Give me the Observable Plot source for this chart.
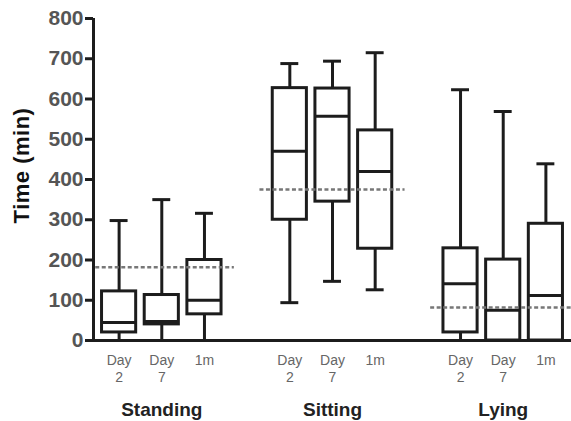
<!DOCTYPE html>
<html>
<head>
<meta charset="utf-8">
<script src="https://cdn.jsdelivr.net/npm/d3@7"></script>
<script src="https://cdn.jsdelivr.net/npm/@observablehq/plot@0.6"></script>
<style>
  html, body { margin: 0; padding: 0; background: #fff; }
  svg { display: block; }
</style>
</head>
<body>
<div id="chart"></div>
<script>
const groups = ["Standing", "Sitting", "Lying"];
const conditions = ["Day\n2", "Day\n7", "1m"];
const yTicks = [0, 100, 200, 300, 400, 500, 600, 700, 800];

// per group, per condition
const whiskerHigh = [[298, 350, 316], [688, 694, 715], [623, 569, 439]];
const q3 = [[122, 113, 200], [627, 626, 522], [229, 201, 290]];
const median = [[45, 47, 100], [470, 557, 420], [141, 75, 112]];
const q1 = [[20, 40, 65], [300, 345, 228], [20, 0, 0]];
const whiskerLow = [[0, 0, 0], [94, 147, 126], [0, 0, 0]];
const reference = [182, 375, 82];

const rows = [];
groups.forEach((g, gi) => conditions.forEach((c, ci) => {
  rows.push({group: g, cond: c, pos: gi * 4 + ci,
    lo: whiskerLow[gi][ci], q1: q1[gi][ci], med: median[gi][ci],
    q3: q3[gi][ci], hi: whiskerHigh[gi][ci]});
}));
const refRows = groups.map((g, gi) => ({group: g, center: gi * 4 + 1, value: reference[gi]}));

const xDomain = [-0.6, 10.6];
const halfBox = 0.4, halfCap = 0.21, halfRef = 1.7;
const ink = "#1c1c1c";
const font = "Liberation Sans, Arial, sans-serif";

const chart = Plot.plot({
  width: 571,
  height: 421,
  marginLeft: 93,
  marginRight: 0,
  marginTop: 18,
  marginBottom: 81,
  style: {fontFamily: font, background: "#fff"},
  x: {type: "linear", domain: xDomain},
  y: {domain: [0, 800]},
  marks: [
    // whiskers
    Plot.ruleX(rows, {x: "pos", y1: "q3", y2: "hi", stroke: ink, strokeWidth: 3}),
    Plot.ruleX(rows, {x: "pos", y1: "lo", y2: "q1", stroke: ink, strokeWidth: 3}),
    Plot.ruleY(rows, {y: "hi", x1: d => d.pos - halfCap, x2: d => d.pos + halfCap, stroke: ink, strokeWidth: 3}),
    Plot.ruleY(rows, {y: "lo", x1: d => d.pos - halfCap, x2: d => d.pos + halfCap, stroke: ink, strokeWidth: 3}),
    // boxes
    Plot.rect(rows, {x1: d => d.pos - halfBox, x2: d => d.pos + halfBox, y1: "q1", y2: "q3", fill: "#fff", stroke: ink, strokeWidth: 3}),
    Plot.ruleY(rows, {y: "med", x1: d => d.pos - halfBox, x2: d => d.pos + halfBox, stroke: ink, strokeWidth: 3}),
    // reference dashed lines
    Plot.ruleY(refRows, {y: "value", x1: d => d.center - halfRef, x2: d => d.center + halfRef, stroke: "#777", strokeWidth: 2.5, strokeDasharray: "4,2.5", clip: true}),
    // axes lines
    Plot.ruleX([xDomain[0]], {stroke: ink, strokeWidth: 3}),
    Plot.ruleY([0], {stroke: ink, strokeWidth: 3}),
    Plot.axisY({ticks: yTicks, tickSize: 8, tickPadding: 2, strokeWidth: 3, stroke: ink, fontSize: 21, fontWeight: "bold", fill: "#555",
      label: "Time (min)", labelAnchor: "center", labelArrow: "none", labelOffset: 80}),
    Plot.axisX({ticks: rows.map(d => d.pos), tickFormat: p => rows.find(d => d.pos === p).cond,
      tickSize: 0, tickPadding: 12, fontSize: 14, fill: "#666", lineHeight: 1.25, label: null}),
    Plot.axisX({ticks: refRows.map(d => d.center), tickFormat: p => refRows.find(d => d.center === p).group,
      tickSize: 0, tickPadding: 62, fontSize: 19, fontWeight: "bold", fill: "#222", label: null})
  ]
});
document.getElementById("chart").appendChild(chart);
// style the y-axis label
chart.querySelectorAll("text").forEach(t => {
  if (t.textContent === "Time (min)") {
    t.setAttribute("font-weight", "bold");
    t.setAttribute("font-size", "22");
    t.setAttribute("letter-spacing", "0.5");
    t.setAttribute("fill", "#111");
    t.setAttribute("dx", "14");
  }
});
</script>
</body>
</html>
